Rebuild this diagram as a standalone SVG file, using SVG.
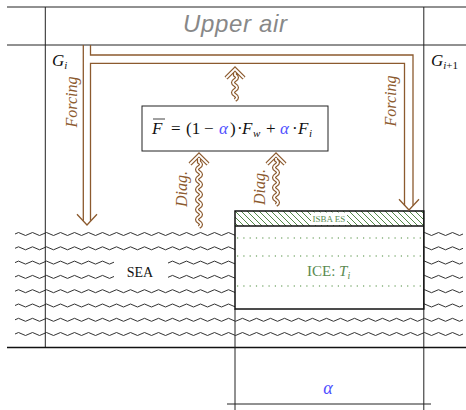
<svg xmlns="http://www.w3.org/2000/svg" width="466" height="410" viewBox="0 0 466 410">
<style>
.ln{stroke:#222;stroke-width:1;fill:none}
.thk{stroke:#111;stroke-width:1.5;fill:none}
.wave{stroke:#333;stroke-width:1;fill:none}
.br{stroke:#8c5a2e;stroke-width:1.3;fill:none}
.dbo{stroke:#8c5a2e;stroke-width:4.2;fill:none;stroke-linejoin:miter}
.dbi{stroke:#fff;stroke-width:1.8;fill:none;stroke-linejoin:miter}
.dot{stroke:#4a8a3a;stroke-width:1.2;stroke-dasharray:1.2 5.1;fill:none}
.serif{font-family:"Liberation Serif","DejaVu Serif",serif}
.brt{font-family:"Liberation Serif",serif;font-style:italic;fill:#8c5a2e;font-size:16px}
.it{font-style:italic}
.blue{fill:#4f4fff}
</style>
<defs>
<path id="wv" d="M15,0 q3.5,-3 7,0 t7,0 t7,0 t7,0 t7,0 t7,0 t7,0 t7,0 t7,0 t7,0 t7,0 t7,0 t7,0 t7,0 t7,0 t7,0 t7,0 t7,0 t7,0 t7,0 t7,0 t7,0 t7,0 t7,0 t7,0 t7,0 t7,0 t7,0 t7,0 t7,0 t7,0 t7,0 t7,0 t7,0 t7,0 t7,0 t7,0 t7,0 t7,0 t7,0 t7,0 t7,0 t7,0 t7,0 t7,0 t7,0 t7,0 t7,0 t7,0 t7,0 t7,0 t7,0 t7,0 t7,0 t7,0 t7,0 t7,0 t7,0 t7,0 t7,0 t7,0 t7,0 t7,0 t7,0"/>
<pattern id="hatch" width="6" height="6" patternUnits="userSpaceOnUse">
<path d="M-1,-1 L7,7 M-1,5 L1,7 M5,-1 L7,1" stroke="#3f7a33" stroke-width="0.9"/>
</pattern>
<path id="wa1" d="M0,0 q4,-2.5 0,-5 t0,-5 t0,-5 t0,-5 t0,-5 t0,-5 t0,-5 t0,-5 t0,-5 t0,-5 t0,-5 t0,-5 t0,-5 l0,-4 M-9,-63 L0,-72 L9,-63"/>
<path id="wa2" d="M0,0 q4,-2.5 0,-5 t0,-5 t0,-5 t0,-5 t0,-5 t0,-5 t0,-5 t0,-5 t0,-5 l0,-2 M-9,-41 L0,-50 L9,-41"/>
<path id="wa3" d="M0,0 q4,-2.5 0,-5 t0,-5 t0,-5 t0,-5 t0,-5 l0,-2 M-9,-22 L0,-31 L9,-22"/>
</defs>

<!-- sea waves -->
<g id="sea">
<use href="#wv" y="234" class="wave"/>
<use href="#wv" y="248.3" class="wave"/>
<use href="#wv" y="262.6" class="wave"/>
<use href="#wv" y="276.9" class="wave"/>
<use href="#wv" y="291.2" class="wave"/>
<use href="#wv" y="305.5" class="wave"/>
<use href="#wv" y="319.8" class="wave"/>
<use href="#wv" y="334" class="wave"/>
<rect x="114" y="256" width="54" height="28" fill="#fff"/>
<text x="140" y="277" class="serif" font-size="14" text-anchor="middle" fill="#111">SEA</text>
</g>

<!-- frame lines -->
<g id="frame">
<line x1="7" y1="7" x2="466" y2="7" class="ln"/>
<line x1="7" y1="45" x2="466" y2="45" class="ln"/>
<line x1="45.3" y1="7" x2="45.3" y2="347.5" class="ln"/>
<line x1="423.8" y1="7" x2="423.8" y2="410" class="ln"/>
<line x1="7" y1="347.5" x2="466" y2="347.5" class="thk"/>
<line x1="235" y1="309" x2="235" y2="410" class="ln"/>
<line x1="227" y1="404" x2="431" y2="404" class="ln"/>
<text x="235" y="32" font-family="Liberation Sans, Arial, sans-serif" font-style="italic" font-size="24" fill="#888" text-anchor="middle" textLength="104" lengthAdjust="spacing">Upper air</text>
<text x="52" y="66" class="serif it" font-size="17" fill="#111">G<tspan font-size="11" y="69">i</tspan></text>
<text x="431" y="66" class="serif it" font-size="17" fill="#111">G<tspan font-size="11" y="69">i</tspan><tspan font-size="11" y="69" font-style="normal">+1</tspan></text>
<text x="328" y="394" class="serif it blue" font-size="18" text-anchor="middle">α</text>
</g>

<!-- ice -->
<g id="ice">
<rect x="235" y="211" width="188.8" height="98" fill="#fff"/>
<rect x="235" y="211" width="188.8" height="15" fill="url(#hatch)"/>
<rect x="311" y="212.5" width="36" height="12.5" fill="#fff"/>
<text x="329" y="222" class="serif" font-size="9" fill="#5a8a50" text-anchor="middle">ISBA ES</text>
<line x1="237" y1="238" x2="424" y2="238" class="dot"/>
<line x1="237" y1="256" x2="424" y2="256" class="dot"/>
<line x1="237" y1="286" x2="424" y2="286" class="dot"/>
<text x="307" y="276" class="serif" font-size="15" fill="#5a8a50">ICE: <tspan class="it">T</tspan><tspan class="it" font-size="10" y="279">i</tspan></text>
<rect x="235" y="211" width="188.8" height="98" class="thk"/>
<line x1="235" y1="226" x2="423.8" y2="226" class="thk"/>
</g>

<!-- formula box -->
<g id="formula">
<rect x="142" y="106" width="186" height="45" fill="#fff" stroke="#222" stroke-width="1"/>
<text class="serif" font-size="17" fill="#111">
<tspan x="152" y="134" class="it">F</tspan>
<tspan x="171" y="134">=</tspan>
<tspan x="186" y="134">(1</tspan>
<tspan x="204" y="134">−</tspan>
<tspan x="219" y="134" class="it blue">α</tspan>
<tspan x="230" y="134">)</tspan>
<tspan x="237" y="134">·</tspan>
<tspan x="242" y="134" class="it">F</tspan>
<tspan x="253" y="137" class="it" font-size="11">w</tspan>
<tspan x="266" y="134">+</tspan>
<tspan x="280" y="134" class="it blue">α</tspan>
<tspan x="292" y="134">·</tspan>
<tspan x="298" y="134" class="it">F</tspan>
<tspan x="309" y="137" class="it" font-size="11">i</tspan>
</text>
<line x1="153" y1="119" x2="165" y2="119" stroke="#111" stroke-width="0.8"/>
</g>

<!-- connectors -->
<g id="connectors">
<path d="M83.3,45 V220.7 M90.5,45 V55 H413 V205.4 M90.5,220.7 V63.3 H404.5 V205.4" class="br"/>
<path d="M77,214.3 L87,225 L97,214.3 M399,199.3 L409,210 L419,199.3" class="br"/>
<text transform="translate(77,102) rotate(-90)" class="brt" text-anchor="middle">Forcing</text>
<text transform="translate(396,101) rotate(-90)" class="brt" text-anchor="middle">Forcing</text>
<use href="#wa1" x="199" y="227" class="dbo"/>
<use href="#wa1" x="199" y="227" class="dbi"/>
<use href="#wa2" x="276" y="205" class="dbo"/>
<use href="#wa2" x="276" y="205" class="dbi"/>
<use href="#wa3" x="235" y="100" class="dbo"/>
<use href="#wa3" x="235" y="100" class="dbi"/>
<text transform="translate(187,189) rotate(-90)" class="brt" text-anchor="middle">Diag.</text>
<text transform="translate(265,187) rotate(-90)" class="brt" text-anchor="middle">Diag.</text>
</g>
</svg>
